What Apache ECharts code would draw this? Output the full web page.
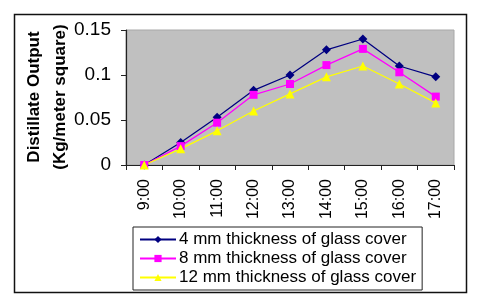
<!DOCTYPE html>
<html>
<head>
<meta charset="utf-8">
<script src="https://cdn.jsdelivr.net/npm/echarts@6/dist/echarts.min.js"></script>
<style>
html,body{margin:0;padding:0;background:#fff;}
#c{width:480px;height:301px;}
</style>
</head>
<body>
<div id="c"></div>
<script>
var categories = ['9:00','10:00','11:00','12:00','13:00','14:00','15:00','16:00','17:00'];
var s4mm  = [0, 0.025, 0.053, 0.083, 0.100, 0.128, 0.140, 0.110, 0.098];
var s8mm  = [0, 0.021, 0.047, 0.078, 0.090, 0.111, 0.129, 0.103, 0.076];
var s12mm = [0, 0.018, 0.038, 0.060, 0.079, 0.098, 0.110, 0.090, 0.069];
var seriesNames = ['4 mm thickness of glass cover','8 mm thickness of glass cover','12 mm thickness of glass cover'];
var yTicks = [0, 0.05, 0.1, 0.15];

var chart = echarts.init(document.getElementById('c'), null, {renderer:'canvas'});
var font = 'Arial, "Liberation Sans", sans-serif';
function mk(name, data, color, symbol, size){
  return {name:name, type:'line', data:data, symbol:symbol, symbolSize:size,
    lineStyle:{color:color, width:1.3}, itemStyle:{color:color}, animation:false};
}
chart.setOption({
  animation:false,
  grid:{left:126, right:26, top:30, bottom:136, show:true, backgroundColor:'#c0c0c0', borderColor:'#a8a8a8', borderWidth:1},
  xAxis:{type:'category', data:categories, boundaryGap:true,
    axisLine:{lineStyle:{color:'#222', width:1.2}},
    axisTick:{show:true, length:5, lineStyle:{color:'#222'}},
    axisLabel:{rotate:90, margin:14, fontSize:16, color:'#000', fontFamily:font, interval:0}},
  yAxis:{type:'value', min:yTicks[0], max:yTicks[yTicks.length-1], interval:0.05,
    splitLine:{show:false},
    axisLine:{show:true, lineStyle:{color:'#222', width:1.2}},
    axisTick:{show:true, length:5, lineStyle:{color:'#222'}},
    axisLabel:{fontSize:19, color:'#000', fontFamily:font, margin:15}},
  legend:{orient:'vertical', left:133, top:227, itemGap:2, itemWidth:36, itemHeight:9,
    padding:[4,6,4,6], borderColor:'#222', borderWidth:1, backgroundColor:'#fff',
    textStyle:{fontSize:17, color:'#000', fontFamily:font, padding:[0,0,0,-2]},
    data:seriesNames},
  series:[
    mk(seriesNames[0], s4mm, '#000080', 'diamond', 9),
    mk(seriesNames[1], s8mm, '#ff00ff', 'rect', 8),
    mk(seriesNames[2], s12mm, '#ffff00', 'triangle', 9)
  ],
  graphic:[
    {type:'rect', shape:{x:14.5, y:14.5, width:452, height:278}, style:{fill:'none', stroke:'#111', lineWidth:1.5}, silent:true, z:-1},
    {type:'text', x:47, y:97, rotation:Math.PI/2,
      style:{text:'Distillate Output\n(Kg/meter square)', fontSize:17, fontWeight:'bold', fontFamily:font, fill:'#000', align:'center', verticalAlign:'middle', lineHeight:26}}
  ]
});
</script>
</body>
</html>
